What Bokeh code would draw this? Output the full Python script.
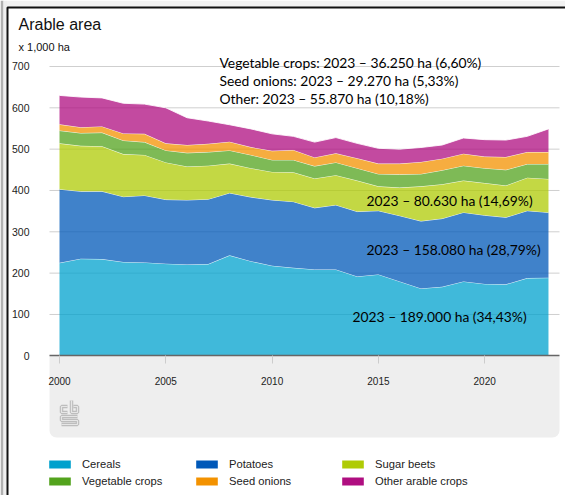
from bokeh.plotting import figure
from bokeh.models import Label, BoxAnnotation, Legend, LegendItem, FixedTicker, Range1d
from bokeh.embed import file_html
from bokeh.resources import INLINE

years = list(range(2000, 2024))
cereals = [225,235,234,227,226,223,221,222,243,229,218,213,209,209,192,197,180,163,167,180,174,173,188,189]
potatoes_top = [403,398,398,385,388,378,377,379,394,384,377,373,358,365,349,351,339,326,332,347,340,335,351,347]
beets_top = [514,508,507,488,486,468,458,460,465,454,445,444,429,437,424,410,407,410,415,424,418,412,431,428]
vegetables_top = [545,539,540,521,517,497,491,493,497,486,474,474,459,468,454,440,439,440,449,460,454,450,464,464]
onions_top = [560,553,555,538,537,514,510,513,518,505,496,498,480,490,478,465,465,469,477,489,482,481,493,493]
other_top = [630,626,624,611,609,600,576,568,559,549,537,531,517,528,514,502,500,504,510,527,523,522,531,549]
names = ["Cereals","Potatoes","Sugar beets","Vegetable crops","Seed onions","Other arable crops"]
colors = ["#00a1cd","#0058b8","#afcb05","#53a31d","#f39200","#af0e80"]
y_ticks = [0,100,200,300,400,500,600,700]
x_ticks = [2000,2005,2010,2015,2020]
notes = [
 ("Vegetable crops: 2023 – 36.250 ha (6,60%)",219,62),
 ("Seed onions: 2023 – 29.270 ha (5,33%)",219,80),
 ("Other: 2023 – 55.870 ha (10,18%)",219,98),
 ("2023 – 80.630 ha (14,69%)",366,200),
 ("2023 – 158.080 ha (28,79%)",366,249),
 ("2023 – 189.000 ha (34,43%)",352,316),
]

W,H = 565,495
L,R,FOOT = 49,559,437
PX = 0.4133
PY = 21.26
ZERO = 355.3
X0 = 59.0
def dx(px): return 2000+(px-X0)/PY
def dy(py): return (ZERO-py)/PX

p = figure(width=W,height=H,output_backend="svg",toolbar_location=None,
           x_range=Range1d(dx(0),dx(W)),y_range=Range1d(dy(H),dy(0)),
           min_border_left=0,min_border_right=0,min_border_top=0,min_border_bottom=0,
           outline_line_color=None,background_fill_color="white",border_fill_color="white")
p.grid.visible=False

# window frame
p.quad(left=dx(0),right=dx(3),top=dy(0),bottom=dy(H),fill_color="#b0b0b0",line_color=None)
p.quad(left=dx(3),right=dx(6.5),top=dy(0),bottom=dy(H),fill_color="#efefef",line_color=None)
p.quad(left=dx(6.5),right=dx(W),top=dy(0),bottom=dy(6.5),fill_color="#f2f2f2",line_color=None)
p.line(x=[dx(7),dx(7),dx(W)],y=[dy(H),dy(7),dy(7)],line_color="#111111",line_width=2)

# footer panel
p.add_layout(BoxAnnotation(left=dx(L),right=dx(R),top=0,bottom=dy(FOOT),fill_color="#eeeeee",fill_alpha=1,
                           line_color=None,level="underlay",border_radius=(0,0,7,7)))
# grid lines
p.segment(x0=[dx(L)]*7,x1=[dx(R)]*7,y0=y_ticks[1:],y1=y_ticks[1:],line_color="#cfcfcf",line_width=1)

tops=[cereals,potatoes_top,beets_top,vegetables_top,onions_top,other_top]
bottoms=[[0]*24]+tops[:-1]
for c,b,t in zip(colors,bottoms,tops):
    p.varea(x=years,y1=b,y2=t,fill_color=c,fill_alpha=0.75)
    p.line(x=years,y=t,line_color="white",line_width=1,line_alpha=0.85)

# logo
logo=[[(67,406),(61,406),(61,412),(67,412)],
      [(71,400),(71,412),(77,412),(77,406),(73,406)],
      [(77,416),(61,416),(61,420),(77,420),(77,424),(61,424)]]
xs=[[dx(a) for a,_ in s] for s in logo]; ys=[[dy(b) for _,b in s] for s in logo]
p.multi_line(xs=xs,ys=ys,line_color="#bdbdbd",line_width=3.5)
p.multi_line(xs=xs,ys=ys,line_color="#e6e6e6",line_width=1.2)

p.xaxis.fixed_location=0
p.xaxis.bounds=(dx(L),dx(R))
p.xaxis.ticker=FixedTicker(ticks=x_ticks)
p.xaxis.axis_line_color="#666666"
p.xaxis.axis_line_width=1.5
p.xaxis.major_tick_line_color="#cccccc"
p.xaxis.major_tick_in=0
p.xaxis.major_tick_out=8
p.xaxis.minor_tick_line_color=None
p.xaxis.major_label_standoff=13
p.xaxis.major_label_text_font="Liberation Sans"
p.xaxis.major_label_text_font_size="10px"
p.xaxis.major_label_text_color="#222222"
p.yaxis.fixed_location=dx(L)
p.yaxis.ticker=FixedTicker(ticks=y_ticks)
p.yaxis.axis_line_color=None
p.yaxis.major_tick_line_color=None
p.yaxis.minor_tick_line_color=None
p.yaxis.major_label_standoff=14
p.yaxis.major_label_text_font="Liberation Sans"
p.yaxis.major_label_text_font_size="10.5px"
p.yaxis.major_label_text_color="#222222"

def lab(text,x,y,size,font,color="#111111"):
    p.add_layout(Label(x=x,y=H-y,x_units="screen",y_units="screen",text=text,text_font=font,
        text_font_size=size,text_color=color,text_baseline="middle"))
lab("Arable area",18,24,"16px","Liberation Sans")
lab("x 1,000 ha",18,46,"11px","Liberation Sans")
for t,x,y in notes:
    lab(t,x,y,"13.85px","Lato","#000000")

dummy=[p.varea(x=[2000,2001],y1=[-1000,-1000],y2=[-999,-999],fill_color=c) for c in colors]
for (a,b),lx in zip([(0,3),(1,4),(2,5)],[46,193,339]):
    lg=Legend(items=[LegendItem(label=names[a],renderers=[dummy[a]]),LegendItem(label=names[b],renderers=[dummy[b]])],
        location=(lx,8),orientation="vertical",
        background_fill_alpha=0,border_line_color=None,padding=0,margin=0,spacing=5,
        glyph_width=27,glyph_height=10,label_height=12,label_standoff=9,
        label_text_font="Liberation Sans",label_text_font_size="11.2px",label_text_color="#222222")
    p.add_layout(lg,"center")

open("out.html","w").write(file_html(p,INLINE))
